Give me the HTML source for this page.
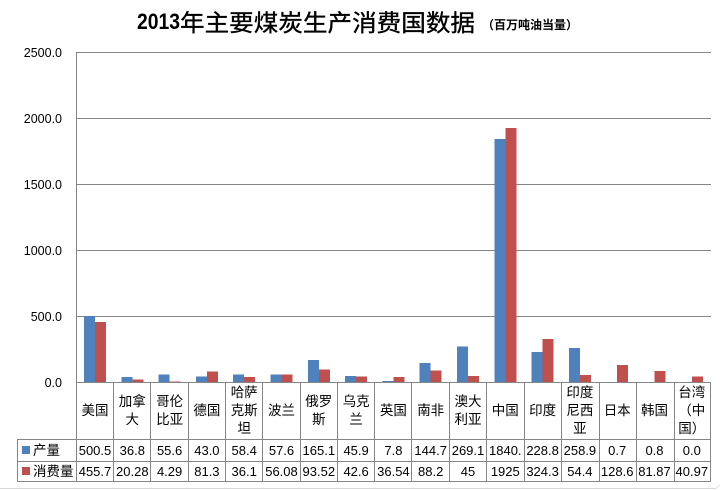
<!DOCTYPE html>
<html>
<head>
<meta charset="utf-8">
<style>
html,body{margin:0;padding:0;background:#fff;}
body{width:722px;height:490px;overflow:hidden;}
svg{display:block;}
.cat{font-family:"Liberation Sans","Noto Sans CJK SC",sans-serif;font-size:13.5px;fill:#000;text-anchor:middle;}
.num{font-family:"Liberation Sans","Noto Sans CJK SC",sans-serif;font-size:13px;fill:#000;text-anchor:middle;}
.ax{font-family:"Liberation Sans",sans-serif;font-size:12.5px;fill:#000;text-anchor:end;}
.leg{font-family:"Liberation Sans","Noto Sans CJK SC",sans-serif;font-size:13.5px;fill:#000;}
</style>
</head>
<body>
<svg width="722" height="490" viewBox="0 0 722 490" xmlns="http://www.w3.org/2000/svg">
<rect x="0" y="0" width="722" height="490" fill="#fff"/>
<!-- title -->
<text x="137" y="29" font-family="Liberation Sans, sans-serif" font-weight="bold" font-size="22" textLength="43" lengthAdjust="spacingAndGlyphs" fill="#000">2013</text>
<text x="180" y="31" font-family="Liberation Sans, Noto Sans CJK SC, sans-serif" font-size="23.5" textLength="295" lengthAdjust="spacingAndGlyphs" fill="#000" stroke="#000" stroke-width="0.35">年主要煤炭生产消费国数据</text>
<text x="482" y="29" font-family="Liberation Sans, Noto Sans CJK SC, sans-serif" font-weight="bold" font-size="12" textLength="96" lengthAdjust="spacingAndGlyphs" fill="#000">（百万吨油当量）</text>

<!-- gridlines -->
<g stroke="#868686" stroke-width="1" shape-rendering="crispEdges">
<line x1="76" y1="52.5" x2="711" y2="52.5"/>
<line x1="76" y1="118.5" x2="711" y2="118.5"/>
<line x1="76" y1="184.5" x2="711" y2="184.5"/>
<line x1="76" y1="250.5" x2="711" y2="250.5"/>
<line x1="76" y1="316.5" x2="711" y2="316.5"/>
<line x1="76.5" y1="52" x2="76.5" y2="382"/>
</g>

<!-- y axis labels -->
<text class="ax" x="62" y="57">2500.0</text>
<text class="ax" x="62" y="123">2000.0</text>
<text class="ax" x="62" y="189">1500.0</text>
<text class="ax" x="62" y="255">1000.0</text>
<text class="ax" x="62" y="321">500.0</text>
<text class="ax" x="62" y="387">0.0</text>

<!-- bars -->
<g fill="#4F81BD" shape-rendering="crispEdges">
<rect x="84" y="315.9" width="11" height="66.1"/>
<rect x="121.3" y="377.1" width="11" height="4.9"/>
<rect x="158.6" y="374.7" width="11" height="7.3"/>
<rect x="195.9" y="376.3" width="11" height="5.7"/>
<rect x="233.2" y="374.3" width="11" height="7.7"/>
<rect x="270.5" y="374.4" width="11" height="7.6"/>
<rect x="307.8" y="360.2" width="11" height="21.8"/>
<rect x="345.1" y="375.9" width="11" height="6.1"/>
<rect x="382.4" y="381" width="11" height="1"/>
<rect x="419.7" y="362.9" width="11" height="19.1"/>
<rect x="457" y="346.5" width="11" height="35.5"/>
<rect x="494.3" y="139.1" width="11" height="242.9"/>
<rect x="531.6" y="351.8" width="11" height="30.2"/>
<rect x="568.9" y="347.8" width="11" height="34.2"/>
</g>
<g fill="#C0504D" shape-rendering="crispEdges">
<rect x="95" y="321.9" width="11" height="60.1"/>
<rect x="132.3" y="379.3" width="11" height="2.7"/>
<rect x="169.6" y="381.4" width="11" height="0.6"/>
<rect x="206.9" y="371.3" width="11" height="10.7"/>
<rect x="244.2" y="377.2" width="11" height="4.8"/>
<rect x="281.5" y="374.6" width="11" height="7.4"/>
<rect x="318.8" y="369.7" width="11" height="12.3"/>
<rect x="356.1" y="376.4" width="11" height="5.6"/>
<rect x="393.4" y="377.2" width="11" height="4.8"/>
<rect x="430.7" y="370.4" width="11" height="11.6"/>
<rect x="468" y="376.1" width="11" height="5.9"/>
<rect x="505.3" y="127.9" width="11" height="254.1"/>
<rect x="542.6" y="339.2" width="11" height="42.8"/>
<rect x="579.9" y="374.8" width="11" height="7.2"/>
<rect x="617.2" y="365" width="11" height="17"/>
<rect x="654.5" y="371.2" width="11" height="10.8"/>
<rect x="691.8" y="376.6" width="11" height="5.4"/>
</g>

<!-- table lines -->
<g stroke="#868686" stroke-width="1" shape-rendering="crispEdges">
<line x1="76" y1="382.5" x2="711" y2="382.5"/>
<line x1="17" y1="439.5" x2="711" y2="439.5"/>
<line x1="17" y1="461.5" x2="711" y2="461.5"/>
<line x1="17" y1="481.5" x2="711" y2="481.5"/>
<line x1="17.5" y1="439" x2="17.5" y2="482"/>
<line x1="76.5" y1="382" x2="76.5" y2="482"/>
<line x1="113.5" y1="382" x2="113.5" y2="482"/>
<line x1="150.5" y1="382" x2="150.5" y2="482"/>
<line x1="188.5" y1="382" x2="188.5" y2="482"/>
<line x1="225.5" y1="382" x2="225.5" y2="482"/>
<line x1="262.5" y1="382" x2="262.5" y2="482"/>
<line x1="300.5" y1="382" x2="300.5" y2="482"/>
<line x1="337.5" y1="382" x2="337.5" y2="482"/>
<line x1="374.5" y1="382" x2="374.5" y2="482"/>
<line x1="411.5" y1="382" x2="411.5" y2="482"/>
<line x1="449.5" y1="382" x2="449.5" y2="482"/>
<line x1="486.5" y1="382" x2="486.5" y2="482"/>
<line x1="524.5" y1="382" x2="524.5" y2="482"/>
<line x1="561.5" y1="382" x2="561.5" y2="482"/>
<line x1="599.5" y1="382" x2="599.5" y2="482"/>
<line x1="636.5" y1="382" x2="636.5" y2="482"/>
<line x1="674.5" y1="382" x2="674.5" y2="482"/>
<line x1="710.5" y1="382" x2="710.5" y2="482"/>
</g>

<!-- category labels -->
<text class="cat" x="95" y="415">美国</text>
<text class="cat" x="132.3" y="406">加拿</text><text class="cat" x="132.3" y="424">大</text>
<text class="cat" x="169.6" y="406">哥伦</text><text class="cat" x="169.6" y="424">比亚</text>
<text class="cat" x="206.9" y="415">德国</text>
<text class="cat" x="244.2" y="397">哈萨</text><text class="cat" x="244.2" y="415">克斯</text><text class="cat" x="244.2" y="433">坦</text>
<text class="cat" x="281.5" y="415">波兰</text>
<text class="cat" x="318.8" y="406">俄罗</text><text class="cat" x="318.8" y="424">斯</text>
<text class="cat" x="356.1" y="406">乌克</text><text class="cat" x="356.1" y="424">兰</text>
<text class="cat" x="393.4" y="415">英国</text>
<text class="cat" x="430.7" y="415">南非</text>
<text class="cat" x="468" y="406">澳大</text><text class="cat" x="468" y="424">利亚</text>
<text class="cat" x="505.3" y="415">中国</text>
<text class="cat" x="542.6" y="415">印度</text>
<text class="cat" x="579.9" y="397">印度</text><text class="cat" x="579.9" y="415">尼西</text><text class="cat" x="579.9" y="433">亚</text>
<text class="cat" x="617.2" y="415">日本</text>
<text class="cat" x="654.5" y="415">韩国</text>
<text class="cat" x="691.8" y="397">台湾</text><text class="cat" x="691.8" y="415">（中</text><text class="cat" x="691.8" y="433">国）</text>

<!-- legend -->
<rect x="22" y="446" width="8" height="8" fill="#4F81BD"/>
<rect x="22" y="467" width="8" height="8" fill="#C0504D"/>
<text class="leg" x="33" y="455">产量</text>
<text class="leg" x="33" y="476">消费量</text>

<!-- row 1 -->
<g>
<text class="num" x="95" y="455">500.5</text>
<text class="num" x="132.3" y="455">36.8</text>
<text class="num" x="169.6" y="455">55.6</text>
<text class="num" x="206.9" y="455">43.0</text>
<text class="num" x="244.2" y="455">58.4</text>
<text class="num" x="281.5" y="455">57.6</text>
<text class="num" x="318.8" y="455">165.1</text>
<text class="num" x="356.1" y="455">45.9</text>
<text class="num" x="393.4" y="455">7.8</text>
<text class="num" x="430.7" y="455">144.7</text>
<text class="num" x="468" y="455">269.1</text>
<text class="num" x="505.3" y="455">1840.</text>
<text class="num" x="542.6" y="455">228.8</text>
<text class="num" x="579.9" y="455">258.9</text>
<text class="num" x="617.2" y="455">0.7</text>
<text class="num" x="654.5" y="455">0.8</text>
<text class="num" x="691.8" y="455">0.0</text>
</g>
<!-- row 2 -->
<g>
<text class="num" x="95" y="476">455.7</text>
<text class="num" x="132.3" y="476">20.28</text>
<text class="num" x="169.6" y="476">4.29</text>
<text class="num" x="206.9" y="476">81.3</text>
<text class="num" x="244.2" y="476">36.1</text>
<text class="num" x="281.5" y="476">56.08</text>
<text class="num" x="318.8" y="476">93.52</text>
<text class="num" x="356.1" y="476">42.6</text>
<text class="num" x="393.4" y="476">36.54</text>
<text class="num" x="430.7" y="476">88.2</text>
<text class="num" x="468" y="476">45</text>
<text class="num" x="505.3" y="476">1925</text>
<text class="num" x="542.6" y="476">324.3</text>
<text class="num" x="579.9" y="476">54.4</text>
<text class="num" x="617.2" y="476">128.6</text>
<text class="num" x="654.5" y="476">81.87</text>
<text class="num" x="691.8" y="476">40.97</text>
</g>

<!-- faint chart border shadow -->
<line x1="0" y1="488.5" x2="716" y2="488.5" stroke="#d9d9d9" stroke-width="1"/>
<line x1="716" y1="488.5" x2="720" y2="484.5" stroke="#e3e3e3" stroke-width="1"/>
</svg>
</body>
</html>
